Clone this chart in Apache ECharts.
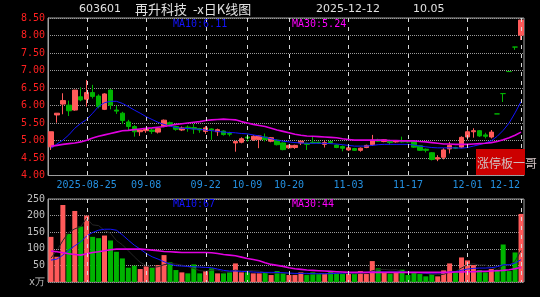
<!DOCTYPE html>
<html><head><meta charset="utf-8">
<script src="https://cdn.jsdelivr.net/npm/echarts@6/dist/echarts.min.js"></script>
<style>html,body{margin:0;padding:0;background:#000;}#c{width:540px;height:297px;}</style>
</head><body><div id="c"></div>
<script>
const dates = [
'2025-08-15','2025-08-18','2025-08-19','2025-08-20','2025-08-21','2025-08-22','2025-08-25','2025-08-26','2025-08-27','2025-08-28','2025-08-29',
'2025-09-01','2025-09-02','2025-09-03','2025-09-04','2025-09-05','2025-09-08','2025-09-09','2025-09-10','2025-09-11','2025-09-12',
'2025-09-15','2025-09-16','2025-09-17','2025-09-18','2025-09-19','2025-09-22','2025-09-23','2025-09-24','2025-09-25','2025-09-26',
'2025-09-29','2025-09-30','2025-10-09','2025-10-10','2025-10-13','2025-10-14','2025-10-15','2025-10-16','2025-10-17',
'2025-10-20','2025-10-21','2025-10-22','2025-10-23','2025-10-24','2025-10-27','2025-10-28','2025-10-29','2025-10-30','2025-10-31',
'2025-11-03','2025-11-04','2025-11-05','2025-11-06','2025-11-07','2025-11-10','2025-11-11','2025-11-12','2025-11-13','2025-11-14',
'2025-11-17','2025-11-18','2025-11-19','2025-11-20','2025-11-21','2025-11-24','2025-11-25','2025-11-26','2025-11-27','2025-11-28',
'2025-12-01','2025-12-02','2025-12-03','2025-12-04','2025-12-05','2025-12-08','2025-12-09','2025-12-10','2025-12-11','2025-12-12'];

const opens = [4.82,5.73,6.04,6.01,5.87,6.25,6.18,6.37,6.27,5.89,6.44,5.87,5.78,5.53,5.40,5.25,5.28,5.30,5.24,5.40,
5.51,5.40,5.30,5.38,5.37,5.34,5.26,5.33,5.25,5.27,5.20,4.93,4.95,5.10,5.02,5.03,5.10,4.98,5.01,4.93,
4.79,4.80,4.93,4.92,4.95,4.95,4.89,4.97,4.87,4.83,4.73,4.77,4.72,4.80,4.88,5.02,4.97,5.00,4.96,4.99,
4.99,4.97,4.85,4.75,4.65,4.47,4.52,4.76,4.80,4.81,5.10,5.25,5.28,5.16,5.10,5.76,6.34,6.97,7.67,8.01];
const closes = [5.25,5.78,6.14,5.85,6.44,6.16,6.37,6.26,5.97,6.33,6.01,5.84,5.57,5.40,5.25,5.30,5.32,5.26,5.34,5.58,
5.45,5.32,5.36,5.34,5.33,5.30,5.36,5.30,5.31,5.17,5.18,4.97,5.05,5.07,5.12,5.13,5.03,5.08,4.88,4.74,
4.86,4.86,4.98,4.89,4.93,4.93,4.94,4.93,4.80,4.78,4.79,4.72,4.78,4.86,5.01,4.98,5.02,4.94,4.99,4.96,
4.96,4.81,4.72,4.72,4.46,4.51,4.73,4.86,4.78,5.09,5.25,5.28,5.13,5.12,5.24,5.76,6.34,6.97,7.67,8.44];
const lows = [4.73,5.51,5.75,5.70,5.85,6.12,5.97,6.20,5.92,5.87,5.89,5.76,5.47,5.30,5.11,5.13,5.22,5.19,5.20,5.38,
5.40,5.28,5.27,5.25,5.19,5.22,5.19,5.02,5.13,5.14,5.12,4.68,4.92,4.97,4.99,4.78,4.97,4.95,4.86,4.72,
4.76,4.76,4.87,4.73,4.91,4.90,4.80,4.90,4.78,4.69,4.70,4.70,4.68,4.78,4.85,4.96,4.95,4.88,4.94,4.94,
4.94,4.79,4.70,4.66,4.43,4.41,4.46,4.63,4.76,4.78,5.02,5.08,5.10,5.06,5.06,5.76,6.10,6.97,7.59,7.87];
const highs = [5.25,5.78,6.35,6.14,6.44,6.52,6.73,6.59,6.32,6.35,6.46,5.99,5.82,5.59,5.44,5.30,5.35,5.35,5.36,5.60,
5.54,5.42,5.40,5.43,5.47,5.36,5.41,5.35,5.34,5.29,5.25,4.99,5.09,5.19,5.15,5.15,5.20,5.10,5.03,4.95,
4.88,4.88,5.00,4.94,5.13,4.97,5.00,4.99,4.89,4.86,4.81,4.79,4.80,4.88,5.16,5.05,5.04,5.02,5.01,5.11,
5.00,4.99,4.87,4.77,4.67,4.58,4.78,4.96,4.82,5.12,5.40,5.35,5.30,5.22,5.30,5.76,6.34,6.97,7.67,8.44];

const ma10 = [4.78,4.90,5.01,5.16,5.35,5.49,5.60,5.78,5.97,6.08,6.12,6.12,6.06,5.97,5.87,5.78,5.68,5.60,5.52,5.46,
5.41,5.37,5.35,5.34,5.33,5.32,5.30,5.28,5.26,5.24,5.23,5.22,5.20,5.19,5.16,5.13,5.09,5.05,5.01,4.98,
4.96,4.94,4.93,4.92,4.92,4.92,4.92,4.91,4.90,4.88,4.86,4.84,4.84,4.84,4.86,4.88,4.89,4.89,4.89,4.89,
4.89,4.87,4.84,4.82,4.80,4.79,4.79,4.79,4.79,4.78,4.80,4.84,4.88,4.93,4.99,5.12,5.29,5.50,5.79,6.11];
const ma30 = [4.84,4.86,4.89,4.91,4.93,4.96,5.01,5.07,5.12,5.16,5.20,5.24,5.28,5.29,5.31,5.33,5.35,5.36,5.38,5.40,
5.43,5.46,5.48,5.50,5.52,5.54,5.57,5.59,5.60,5.61,5.60,5.59,5.54,5.50,5.46,5.43,5.40,5.35,5.30,5.26,
5.22,5.18,5.15,5.13,5.12,5.11,5.10,5.09,5.08,5.05,5.03,5.01,5.01,5.01,5.01,5.01,5.01,5.00,5.00,4.99,
4.99,4.99,4.97,4.96,4.94,4.92,4.90,4.90,4.89,4.89,4.89,4.90,4.91,4.92,4.94,4.97,5.02,5.08,5.15,5.24];

const volumes = [136,76,232,145,214,167,200,136,132,140,125,91,71,43,49,39,47,43,51,81,
59,36,29,26,53,26,33,41,26,26,29,56,29,29,26,26,29,21,33,26,
21,21,29,21,29,24,24,33,26,24,24,24,33,24,63,41,29,25,29,37,
21,29,24,17,24,17,35,56,29,74,65,51,36,29,39,36,113,33,89,205];
const volMa5 = [72,95,125,150,160,167,192,172,170,155,147,125,112,94,76,59,50,44,46,52,
56,54,51,46,41,34,33,36,36,30,31,36,33,34,34,33,28,26,27,27,
26,24,26,24,24,25,25,26,27,26,26,25,26,26,34,37,38,36,37,32,
28,28,28,26,23,22,23,30,32,42,52,55,51,51,44,37,51,50,62,95];
const volMa10 = [66,69,81,96,109,121,139,149,156,159,159,156,142,126,111,99,86,76,69,61,
54,49,48,47,46,45,44,43,39,35,33,33,32,31,30,29,29,29,29,28,
27,26,26,26,25,25,25,25,26,27,28,28,28,29,30,30,30,30,30,30,
29,29,28,27,27,27,28,30,31,35,39,41,42,42,43,46,52,52,57,67];
const volMa30 = [93,91,88,85,83,81,85,89,91,94,97,99,99,99,99,99,98,96,94,92,
91,90,89,89,89,89,89,88,86,83,81,79,75,71,68,64,58,53,50,47,
43,40,38,36,35,34,33,32,31,30,29,29,29,29,29,29,29,29,29,29,
29,29,29,29,29,29,29,29,30,30,31,31,32,32,33,34,35,37,40,44];

const labelDates = ['2025-08-25','2025-09-08','2025-09-22','2025-10-09','2025-10-20','2025-11-03','2025-11-17','2025-12-01','2025-12-12'];
const priceTicks = {min: 4, max: 8.5, step: 0.5};
const volTicks = {min: 0, max: 250, step: 50};

const UP = '#ff5a5a', DOWN = '#00b400';
const MONO = 'DejaVu Sans Mono';
const candleData = dates.map((d, i) => {
  const c = closes[i] > opens[i] ? UP : DOWN;
  return {value: [opens[i], closes[i], lows[i], highs[i]], itemStyle: {color: c, color0: c, borderColor: c, borderColor0: c}};
});
const volData = dates.map((d, i) => ({value: volumes[i], itemStyle: {color: closes[i] > opens[i] ? UP : DOWN}}));
const isLabel = (idx, val) => labelDates.indexOf(val) >= 0;
const lastLbl = labelDates[labelDates.length - 1];

// vertical dashed guides at the labelled dates, positioned through the axes
function guideSeries(xi, yi, lo, hi) {
  return {
    type: 'custom', xAxisIndex: xi, yAxisIndex: yi, silent: true, z: 10, clip: false,
    data: labelDates.map(d => [dates.indexOf(d), lo, hi]),
    encode: {x: 0, y: [1, 2]},
    renderItem: (params, api) => {
      const idx = api.value(0);
      const pa = api.coord([idx, api.value(1)]);
      const pb = api.coord([idx, api.value(2)]);
      const x = Math.round(pa[0]) + 0.5;
      const top = Math.min(pa[1], pb[1]), bot = Math.max(pa[1], pb[1]);
      const kids = [];
      for (let y = top; y < bot; y += 9) {
        kids.push({type: 'rect', shape: {x: x - 0.5, y: y, width: 1, height: Math.min(4, bot - y)},
                   style: {fill: '#d8d8d8'}});
      }
      return {type: 'group', children: kids};
    }
  };
}

const chart = echarts.init(document.getElementById('c'), null, {renderer: 'canvas'});
chart.setOption({
  backgroundColor: '#000',
  animation: false,
  grid: [
    {left: 48, right: 16, top: 18, height: 157.5, show: true, borderColor: '#a0a0a0', borderWidth: 1, outerBoundsMode: 'none'},
    {left: 48, right: 16, top: 199, height: 83, show: true, borderColor: '#a0a0a0', borderWidth: 1, outerBoundsMode: 'none'}
  ],
  xAxis: [
    {type: 'category', gridIndex: 0, data: dates, boundaryGap: true,
     axisLine: {show: false}, axisTick: {show: false}, splitLine: {show: false},
     axisLabel: {
       interval: isLabel,
       margin: 5, color: '#2490e0', fontFamily: MONO, fontSize: 10,
       formatter: v => v === labelDates[0] ? v : (v === lastLbl ? '{r|' + v.slice(5) + '}' : v.slice(5)),
       rich: {r: {padding: [0, 32, 0, 0], color: '#2490e0', fontFamily: MONO, fontSize: 10}}
     }},
    {type: 'category', gridIndex: 1, data: dates, boundaryGap: true,
     axisLine: {show: false}, axisTick: {show: false}, axisLabel: {show: false}, splitLine: {show: false}}
  ],
  yAxis: [
    {type: 'value', gridIndex: 0, min: priceTicks.min, max: priceTicks.max, interval: priceTicks.step,
     axisLine: {show: true, lineStyle: {color: '#a0a0a0'}}, axisTick: {show: false},
     splitLine: {show: true, lineStyle: {color: '#9a9a9a', type: 'dotted', width: 1}},
     axisLabel: {margin: 3, color: '#ff2020', fontFamily: MONO, fontSize: 10, formatter: v => v.toFixed(2)}},
    {type: 'value', gridIndex: 1, min: volTicks.min, max: volTicks.max, interval: volTicks.step,
     axisLine: {show: true, lineStyle: {color: '#a0a0a0'}}, axisTick: {show: false},
     splitLine: {show: true, lineStyle: {color: '#9a9a9a', type: 'dotted', width: 1}},
     axisLabel: {margin: 3, color: '#c0c0c0', fontFamily: MONO, fontSize: 10, formatter: v => v === 0 ? 'x万' : String(v)}}
  ],
  series: [
    guideSeries(0, 0, priceTicks.min, priceTicks.max),
    guideSeries(1, 1, volTicks.min, volTicks.max),
    {type: 'candlestick', xAxisIndex: 0, yAxisIndex: 0, data: candleData, barWidth: 5,
     itemStyle: {borderWidth: 1}, z: 3},
    {type: 'line', xAxisIndex: 0, yAxisIndex: 0, data: ma10, symbol: 'none', lineStyle: {color: '#1414ff', width: 1}, z: 4},
    {type: 'line', xAxisIndex: 0, yAxisIndex: 0, data: ma30, symbol: 'none', lineStyle: {color: '#e000e0', width: 1.6}, z: 4},
    {type: 'bar', xAxisIndex: 1, yAxisIndex: 1, data: volData, barWidth: 5, z: 3},
    {type: 'line', xAxisIndex: 1, yAxisIndex: 1, data: volMa5, symbol: 'none', lineStyle: {color: '#262626', width: 1}, z: 4},
    {type: 'line', xAxisIndex: 1, yAxisIndex: 1, data: volMa10, symbol: 'none', lineStyle: {color: '#1414ff', width: 1}, z: 4},
    {type: 'line', xAxisIndex: 1, yAxisIndex: 1, data: volMa30, symbol: 'none', lineStyle: {color: '#e000e0', width: 1.6}, z: 4}
  ],
  graphic: [
    {type: 'text', z: 100, style: {x: 79, y: 9, text: '603601', fill: '#e0e0e0', font: '11px "DejaVu Sans"', verticalAlign: 'middle'}},
    {type: 'text', z: 100, style: {x: 135, y: 9, text: '再升科技', fill: '#e0e0e0', font: '13px "Noto Sans CJK SC"', verticalAlign: 'middle'}},
    {type: 'text', z: 100, style: {x: 193, y: 9, text: '-x日K线图', fill: '#e0e0e0', font: '13px "Noto Sans CJK SC"', verticalAlign: 'middle'}},
    {type: 'text', z: 100, style: {x: 316, y: 9, text: dates[dates.length - 1], fill: '#e0e0e0', font: '11px "DejaVu Sans"', verticalAlign: 'middle'}},
    {type: 'text', z: 100, style: {x: 413, y: 9, text: '10.05', fill: '#e0e0e0', font: '11px "DejaVu Sans"', verticalAlign: 'middle'}},
    {type: 'text', z: 100, style: {x: 173, y: 24, text: 'MA10:' + ma10[ma10.length - 1].toFixed(2), fill: '#1414ff', font: '10px "DejaVu Sans Mono"', verticalAlign: 'middle'}},
    {type: 'text', z: 100, style: {x: 292, y: 24, text: 'MA30:' + ma30[ma30.length - 1].toFixed(2), fill: '#ff00ff', font: '10px "DejaVu Sans Mono"', verticalAlign: 'middle'}},
    {type: 'text', z: 100, style: {x: 173, y: 204, text: 'MA10:' + volMa10[volMa10.length - 1], fill: '#1414ff', font: '10px "DejaVu Sans Mono"', verticalAlign: 'middle'}},
    {type: 'text', z: 100, style: {x: 292, y: 204, text: 'MA30:' + volMa30[volMa30.length - 1], fill: '#ff00ff', font: '10px "DejaVu Sans Mono"', verticalAlign: 'middle'}},
    {type: 'rect', z: 100, shape: {x: 476, y: 149, width: 49, height: 26}, style: {fill: '#cc0000'}},
    {type: 'text', z: 101, style: {x: 477, y: 163, text: '涨停板一哥', fill: '#d0c0c0', font: '12px "Noto Sans CJK SC"', verticalAlign: 'middle'}}
  ]
});
</script>
</body></html>
